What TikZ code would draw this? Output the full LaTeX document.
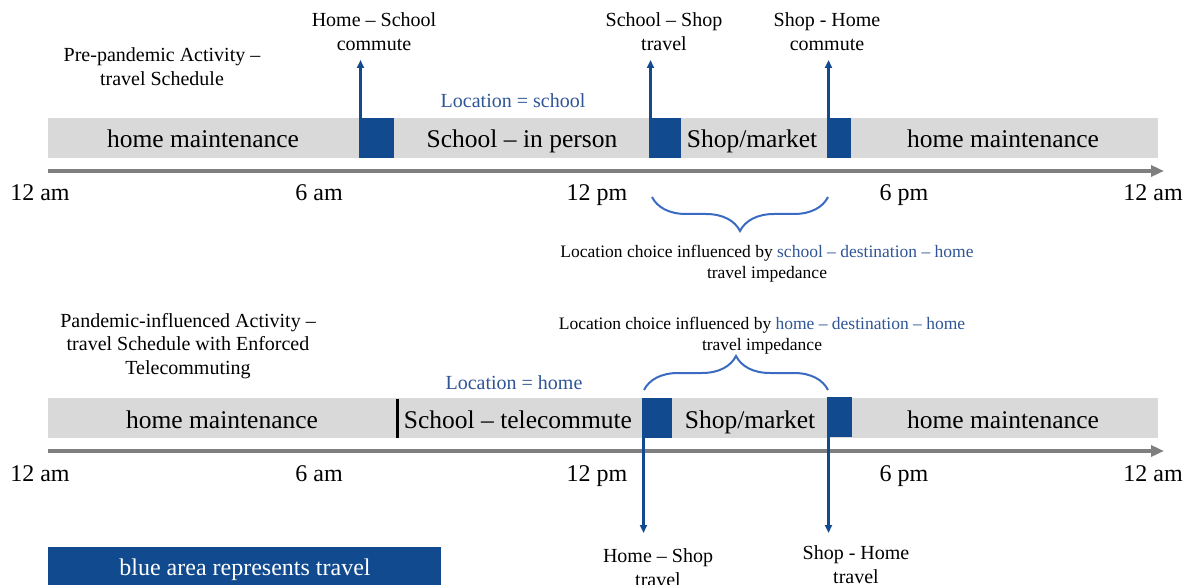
\documentclass[tikz,border=0pt]{standalone}
\usepackage{fontspec}
\setmainfont{Liberation Serif}
\usetikzlibrary{arrows.meta,decorations.pathreplacing}
\definecolor{barg}{HTML}{D9D9D9}
\definecolor{tblue}{HTML}{114A8F}
\definecolor{txtblue}{HTML}{2F5597}
\definecolor{brblue}{HTML}{3A6BC0}
\definecolor{axg}{HTML}{7F7F7F}
\begin{document}
\begin{tikzpicture}[x=1pt,y=-1pt,
  bar/.style={fill=barg,draw=none,inner sep=0,minimum height=40,anchor=north west},
  tbox/.style={fill=tblue,draw=none,inner sep=0,minimum height=40,anchor=north west},
  barlab/.style={anchor=base,inner sep=0,font=\fontsize{25.5}{30}\selectfont},
  timelab/.style={anchor=base,inner sep=0,font=\fontsize{24}{28}\selectfont},
  smalllab/.style={align=center,inner sep=0,font=\fontsize{20}{24}\selectfont},
  loclab/.style={anchor=base,inner sep=0,text=txtblue,font=\fontsize{20}{24}\selectfont},
  inflab/.style={align=center,inner sep=0,font=\fontsize{17.5}{21}\selectfont},
  titlelab/.style={align=center,inner sep=0,font=\fontsize{20}{23.5}\selectfont},
  travarrow/.style={draw=tblue,line width=2.5,-{Triangle[length=8,width=7]}},
  axisline/.style={draw=axg,line width=4,-{Triangle[length=13,width=11]}},
  bracestyle/.style={draw=brblue,line width=2,decorate,decoration={brace,amplitude=34}}
]
\useasboundingbox (0,0) rectangle (1193,585);

% ---------- top timeline ----------
\node[bar,minimum width=1110] (bar1) at (48,118) {};
\node[tbox,minimum width=35] (tb1) at (359,118) {};
\node[tbox,minimum width=32] (tb2) at (649,118) {};
\node[tbox,minimum width=24] (tb3) at (827,118) {};

\node[barlab] (hm1) at (203,148) {home maintenance};
\node[barlab] (sip) at (522,148) {School – in person};
\node[barlab] (sm1) at (752,148) {Shop/market};
\node[barlab] (hm2) at (1003,148) {home maintenance};

\node[smalllab] (hs) at (374,32) {Home – School\\commute};
\node[smalllab] (ss) at (664,32) {School – Shop\\travel};
\node[smalllab] (sh1) at (827,32) {Shop - Home\\commute};
\node[smalllab] (pre) at (162,66.5) {Pre-pandemic Activity –\\travel Schedule};
\node[loclab] (locs) at (513,108) {Location = school};

\coordinate (t1) at (360.5,60);
\coordinate (t2) at (650.5,60);
\coordinate (t3) at (828.5,60);
\draw[travarrow] ([xshift=1.5]tb1.north west) -- (t1);
\draw[travarrow] ([xshift=1.5]tb2.north west) -- (t2);
\draw[travarrow] ([xshift=1.5]tb3.north west) -- (t3);

\coordinate (ax1s) at (48,171);
\coordinate (ax1e) at (1164,171);
\draw[axisline] (ax1s) -- (ax1e);

\node[timelab] (a1) at (40,201) {12 am};
\node[timelab] (a2) at (319,201) {6 am};
\node[timelab] (a3) at (597,201) {12 pm};
\node[timelab] (a4) at (904,201) {6 pm};
\node[timelab] (a5) at (1153,201) {12 am};

\coordinate (br1a) at (828,197);
\coordinate (br1b) at (652,197);
\draw[bracestyle] (br1a) -- (br1b);
\node[inflab] (inf1) at (767,263.4) {Location choice influenced by \textcolor{txtblue}{school – destination – home}\\travel impedance};

% ---------- bottom timeline ----------
\node[inflab] (inf2) at (762,335.4) {Location choice influenced by \textcolor{txtblue}{home – destination – home}\\travel impedance};
\coordinate (br2a) at (644,390);
\coordinate (br2b) at (828,390);
\draw[bracestyle] (br2a) -- (br2b);

\node[titlelab] (pan) at (188,345.7) {Pandemic-influenced Activity –\\travel Schedule with Enforced\\Telecommuting};
\node[loclab] (loch) at (514,389) {Location = home};

\node[bar,minimum width=1110] (bar2) at (48,398) {};
\node[tbox,minimum width=30] (tb4) at (642,398) {};
\node[tbox,minimum width=25] (tb5) at (827,397) {};
\draw[line width=3] (397,399) -- (397,438);

\node[barlab] (hm3) at (222,428) {home maintenance};
\node[barlab] (stc) at (518,428) {School – telecommute};
\node[barlab] (sm2) at (750,428) {Shop/market};
\node[barlab] (hm4) at (1003,428) {home maintenance};

\coordinate (ax2s) at (48,451);
\coordinate (ax2e) at (1164,451);
\draw[axisline] (ax2s) -- (ax2e);

\node[timelab] (b1) at (40,481) {12 am};
\node[timelab] (b2) at (319,481) {6 am};
\node[timelab] (b3) at (597,481) {12 pm};
\node[timelab] (b4) at (904,481) {6 pm};
\node[timelab] (b5) at (1153,481) {12 am};

\coordinate (d1) at (643.5,533);
\coordinate (d2) at (828.5,533);
\draw[travarrow] ([xshift=1.5]tb4.south west) -- (d1);
\draw[travarrow] ([xshift=1.5]tb5.south west) -- (d2);

\node[smalllab] (hsh) at (658,567.5) {Home – Shop\\travel};
\node[smalllab] (sh2) at (856,565) {Shop - Home\\travel};

% ---------- legend ----------
\node[fill=tblue,inner sep=0,minimum width=393,minimum height=38,anchor=north west] (leg) at (48,547) {};
\node[anchor=base,inner sep=0,text=white,font=\fontsize{24}{28}\selectfont] (legt) at (245,575) {blue area represents travel};
\end{tikzpicture}
\end{document}
